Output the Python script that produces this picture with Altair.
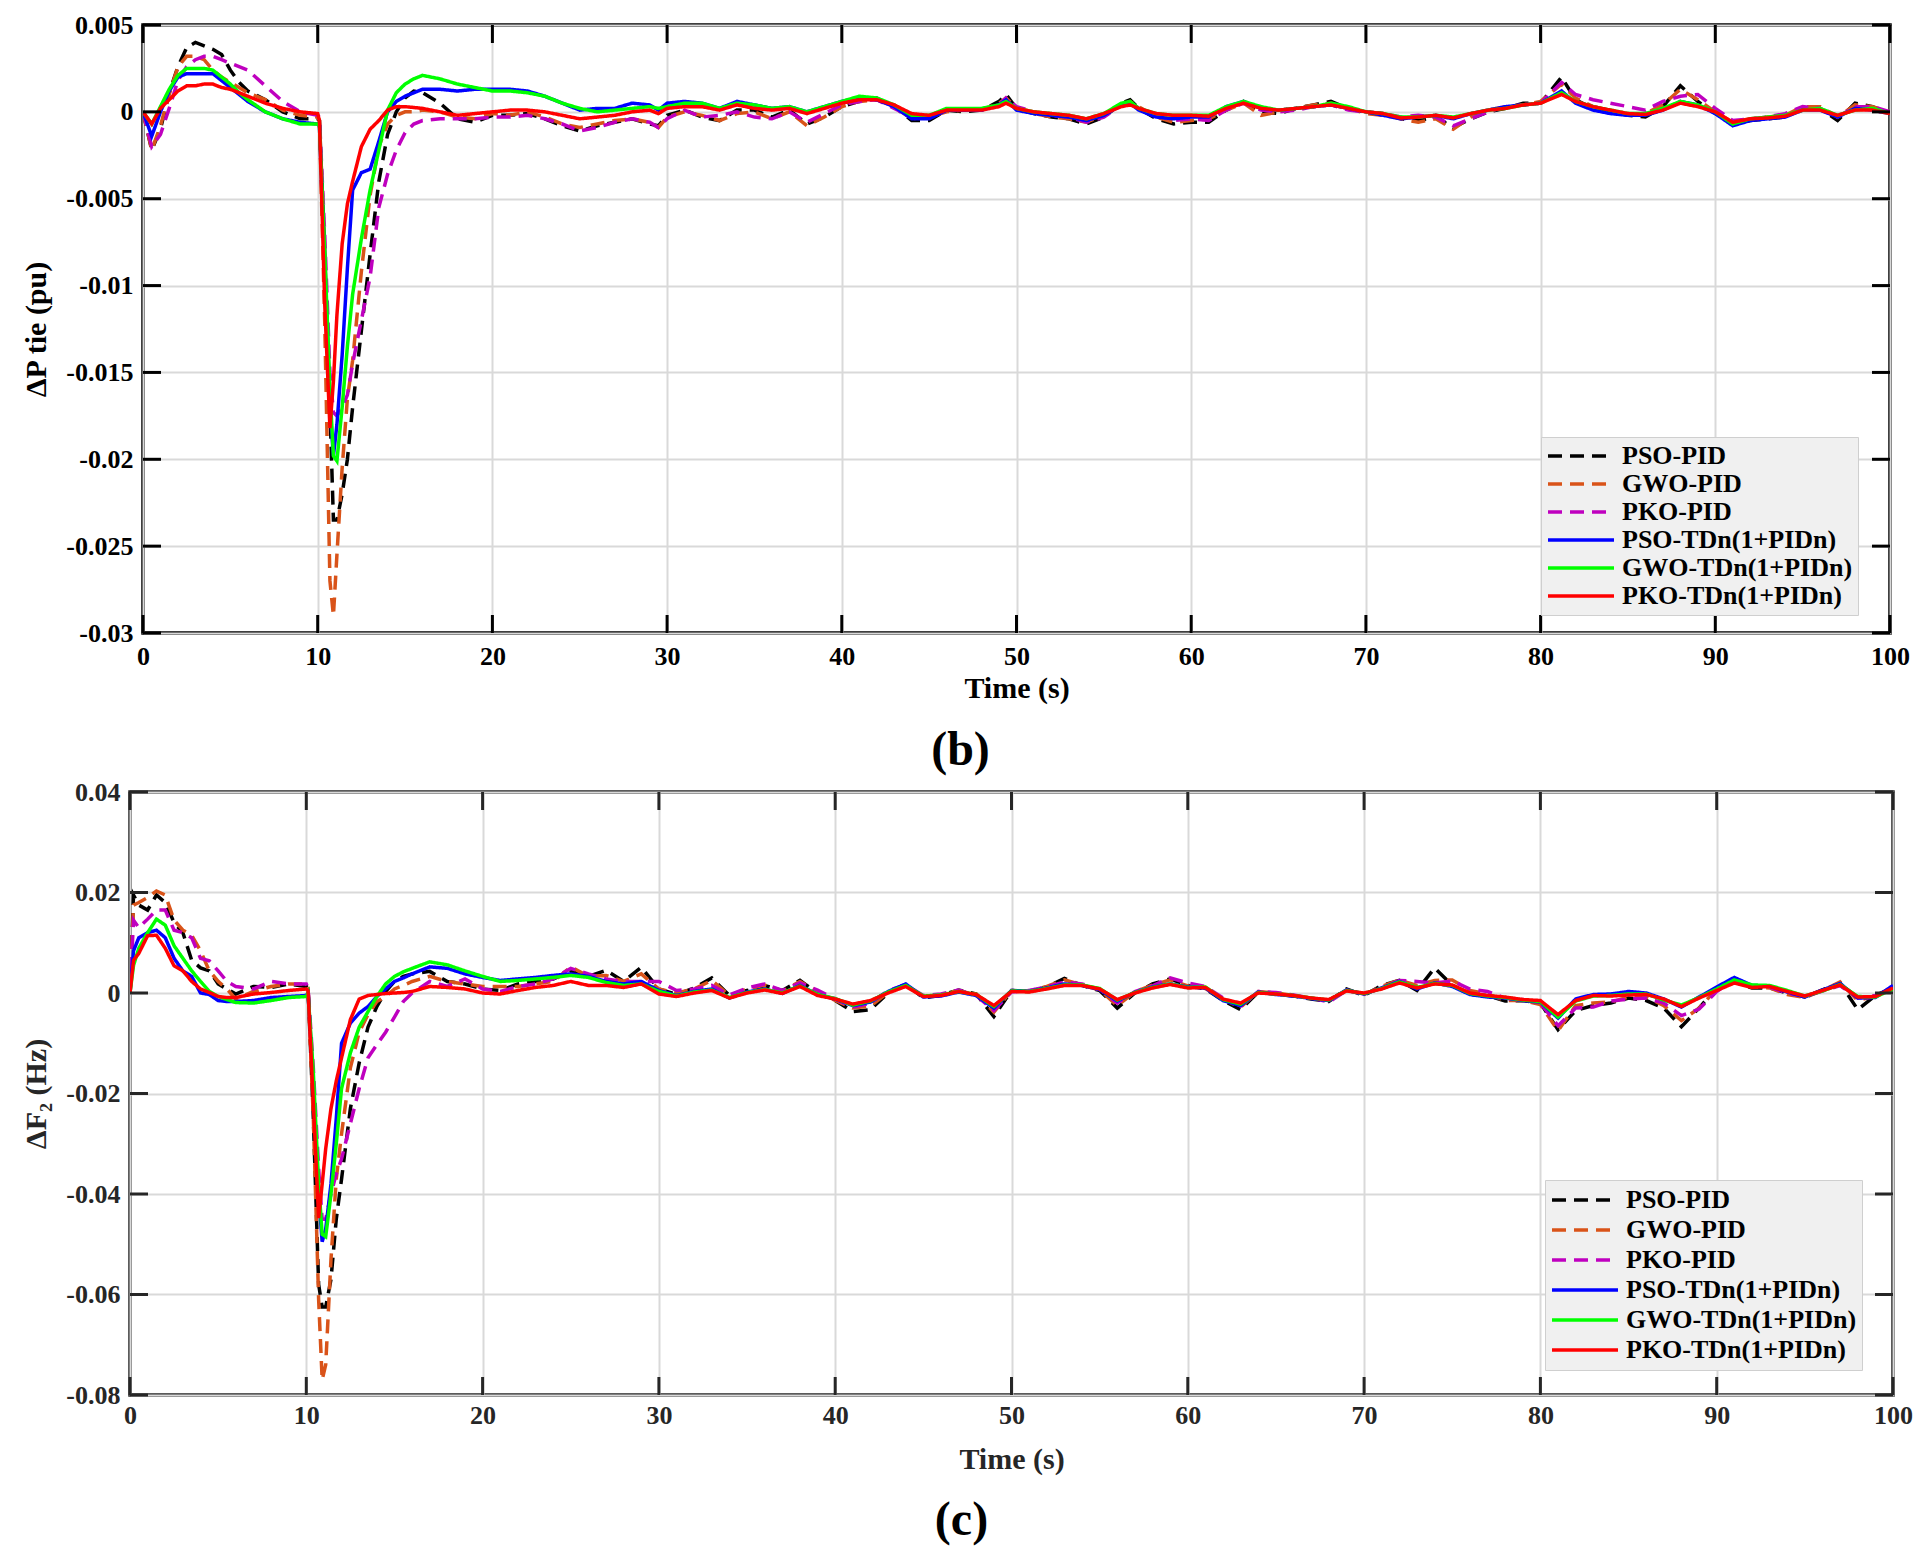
import altair as alt
import pandas as pd

FONT = "Liberation Serif"
SERIES = ["PSO-PID", "GWO-PID", "PKO-PID", "PSO-TDn(1+PIDn)", "GWO-TDn(1+PIDn)", "PKO-TDn(1+PIDn)"]
COLORS = ["#000000", "#D95319", "#BF00BF", "#0000FF", "#00FF00", "#FF0000"]
DASHES = [[14, 8], [14, 8], [14, 8], [1, 0], [1, 0], [1, 0]]
WIDTHS = [3.5, 3.5, 3.5, 3.5, 3.5, 4.5]

XTICKS = [0, 10, 20, 30, 40, 50, 60, 70, 80, 90, 100]
TOP_YTICKS = [0.005, 0, -0.005, -0.01, -0.015, -0.02, -0.025, -0.03]
BOT_YTICKS = [0.04, 0.02, 0, -0.02, -0.04, -0.06, -0.08]

# ---------------- panel (b): delta P tie, values in 1e-3 pu ----------------
TOP_T = [0, 0.5, 1, 1.5, 2, 2.5, 3, 3.5, 4, 4.5, 5, 5.5, 6, 7, 8, 9, 10,
         10.1, 10.4, 10.7, 10.9, 11.1, 11.4, 11.7, 12, 12.5, 13, 13.5, 14, 14.5, 15, 15.5, 16,
         17, 18, 19, 20, 21, 22, 23, 24, 25, 26, 27, 28, 29, 29.5, 30,
         31, 32, 33, 34, 35, 36, 37, 38, 39, 40, 41, 42, 43, 44, 45, 46, 47, 48, 49, 49.4,
         50, 51, 52, 53, 54, 55, 56, 56.5,
         57, 58, 59, 60, 61, 62, 63, 64, 65, 66, 67, 68, 69, 70, 71, 72, 73, 74, 75, 76, 77, 78, 79, 80,
         81.2, 82, 83, 84, 85, 86, 87, 88, 89, 90, 91, 92, 93, 94, 95, 96, 97, 98, 99, 100]

TOP_PSO_PID = [0, -2.2, -1.0, 1.1, 2.6, 3.7, 4.0, 3.8, 3.6, 3.3, 2.4, 1.7, 1.2, 0.7, 0.0, -0.4, -0.4,
               -0.5, -8, -17, -23.5, -23.5, -22, -20, -17, -12.6, -8.2, -4.0, -1.3, 0.0, 0.8, 1.2, 1.1,
               0.5, -0.4, -0.6, -0.2, -0.2, -0.1, -0.4, -0.8, -1.1, -0.8, -0.6, -0.4, -0.7, -0.8, -0.2,
               0.1, -0.3, -0.5, 0.1, 0.1, -0.3, 0.1, -0.7, -0.3, 0.3, 0.6, 0.8, 0.3, -0.5, -0.5, 0.1, 0.0, 0.1, 0.6, 1.0,
               0.2, -0.1, -0.3, -0.4, -0.7, -0.3, 0.5, 0.7,
               0.2, -0.4, -0.7, -0.6, -0.6, 0.1, 0.6, 0.0, -0.1, 0.2, 0.4, 0.6, 0.2, 0.0, -0.1, -0.4, -0.5, -0.3, -0.9, -0.4, 0.0, 0.2, 0.5, 0.5,
               2.0, 0.7, 0.2, 0.0, -0.2, -0.3, 0.3, 1.5, 0.6, -0.1, -0.7, -0.5, -0.4, -0.3, 0.2, 0.2, -0.5, 0.5, 0.3, -0.1]
TOP_GWO_PID = [0, -2.2, -0.8, 1.0, 2.6, 3.2, 3.2, 3.0, 2.4, 2.0, 1.7, 1.4, 1.1, 0.7, 0.1, -0.2, -0.3,
               -0.5, -12, -27, -29, -25.5, -20.5, -16.5, -14.3, -9.2, -4.8, -2.0, -0.7, -0.2, 0.0, 0.0, 0.1,
               0.0, -0.3, -0.4, -0.1, -0.2, 0.0, -0.3, -0.7, -0.9, -0.7, -0.5, -0.4, -0.6, -0.9, -0.3,
               0.0, -0.2, -0.5, -0.1, 0.0, -0.4, 0.0, -0.8, -0.3, 0.3, 0.6, 0.7, 0.3, -0.4, -0.3, 0.0, 0.1, 0.1, 0.5, 0.8,
               0.2, -0.1, -0.3, -0.4, -0.6, -0.2, 0.4, 0.6,
               0.3, -0.3, -0.6, -0.5, -0.4, 0.1, 0.5, -0.2, 0.0, 0.2, 0.4, 0.5, 0.2, -0.1, -0.2, -0.4, -0.6, -0.4, -1.0, -0.3, 0.1, 0.3, 0.4, 0.6,
               1.6, 0.8, 0.3, 0.1, -0.2, -0.1, 0.4, 1.3, 0.7, 0.0, -0.6, -0.4, -0.3, -0.2, 0.3, 0.3, -0.3, 0.4, 0.3, 0.0]
TOP_PKO_PID = [0, -2.0, -1.3, 0.2, 1.8, 2.6, 3.0, 3.2, 3.2, 3.0, 2.8, 2.6, 2.4, 1.5, 0.6, 0.0, -0.2,
               -0.3, -7, -15, -17.3, -17.5, -17, -16.3, -14.5, -12, -9.5, -5.5, -3.6, -2.2, -1.2, -0.7, -0.5,
               -0.4, -0.4, -0.4, -0.3, -0.3, -0.2, -0.4, -0.7, -1.1, -0.9, -0.6, -0.4, -0.6, -0.9, -0.4,
               0.1, -0.3, -0.2, 0.0, -0.3, -0.4, 0.0, -0.6, -0.1, 0.4, 0.6, 0.7, 0.2, -0.3, -0.3, 0.1, 0.1, 0.1, 0.4, 0.8,
               0.3, 0.0, -0.2, -0.3, -0.6, -0.3, 0.4, 0.6,
               0.2, -0.2, -0.5, -0.4, -0.5, 0.1, 0.5, 0.1, 0.0, 0.1, 0.3, 0.4, 0.1, 0.0, -0.1, -0.3, -0.2, -0.3, -0.8, -0.4, 0.0, 0.3, 0.4, 0.5,
               1.7, 1.0, 0.7, 0.5, 0.3, 0.1, 0.6, 0.9, 1.0, 0.2, -0.5, -0.4, -0.3, -0.1, 0.3, 0.2, -0.3, 0.3, 0.3, 0.0]
TOP_PSO_TDN = [0, -1.4, 0.0, 1.2, 2.0, 2.2, 2.2, 2.2, 2.2, 1.8, 1.4, 1.0, 0.6, 0.0, -0.4, -0.6, -0.7,
               -0.8, -9, -17, -19.8, -18, -14, -9, -4.5, -3.5, -3.3, -1.7, 0.0, 0.6, 0.9, 1.1, 1.3,
               1.3, 1.2, 1.3, 1.3, 1.3, 1.2, 0.9, 0.5, 0.1, 0.2, 0.2, 0.5, 0.4, 0.1, 0.5,
               0.6, 0.5, 0.2, 0.6, 0.4, 0.2, 0.3, 0.0, 0.3, 0.6, 0.8, 0.7, 0.3, -0.4, -0.4, 0.1, 0.1, 0.1, 0.4, 0.7,
               0.1, -0.1, -0.2, -0.3, -0.5, -0.2, 0.4, 0.5,
               0.1, -0.3, -0.4, -0.3, -0.3, 0.3, 0.6, 0.2, 0.1, 0.2, 0.3, 0.4, 0.2, 0.0, -0.2, -0.4, -0.3, -0.2, -0.4, -0.1, 0.1, 0.3, 0.4, 0.5,
               1.2, 0.5, 0.1, -0.1, -0.2, -0.2, 0.1, 0.6, 0.4, -0.1, -0.8, -0.5, -0.4, -0.3, 0.1, 0.1, -0.3, 0.2, 0.1, -0.1]
TOP_GWO_TDN = [0, -0.7, 0.3, 1.3, 2.1, 2.5, 2.5, 2.5, 2.4, 2.0, 1.6, 1.1, 0.7, 0.0, -0.4, -0.7, -0.7,
               -0.8, -8, -16, -19.8, -20.1, -17, -13.5, -10.5, -7.3, -4.5, -2.2, 0.1, 1.1, 1.6, 1.9, 2.1,
               1.9, 1.6, 1.4, 1.2, 1.2, 1.1, 0.9, 0.5, 0.2, 0.0, 0.1, 0.2, 0.3, 0.2, 0.3,
               0.5, 0.5, 0.2, 0.5, 0.4, 0.2, 0.3, 0.0, 0.3, 0.6, 0.9, 0.8, 0.4, -0.2, -0.2, 0.2, 0.2, 0.2, 0.4, 0.6,
               0.2, 0.0, -0.1, -0.2, -0.4, -0.1, 0.5, 0.6,
               0.2, -0.1, -0.2, -0.2, -0.2, 0.3, 0.6, 0.3, 0.1, 0.2, 0.3, 0.5, 0.3, 0.0, -0.1, -0.3, -0.3, -0.2, -0.3, -0.1, 0.1, 0.2, 0.4, 0.5,
               1.1, 0.6, 0.3, 0.1, -0.1, -0.1, 0.2, 0.6, 0.4, 0.0, -0.7, -0.4, -0.3, -0.2, 0.1, 0.2, -0.2, 0.1, 0.2, -0.1]
TOP_PKO_TDN = [0, -0.7, 0.2, 0.7, 1.2, 1.5, 1.5, 1.6, 1.6, 1.4, 1.3, 1.1, 0.9, 0.5, 0.2, 0.0, -0.1,
               -0.5, -11, -18.2, -15.5, -11.7, -7.6, -5.3, -4.0, -2.0, -1.0, -0.5, 0.1, 0.3, 0.3, 0.25, 0.2,
               0.0, -0.2, -0.1, 0.0, 0.1, 0.1, 0.0, -0.2, -0.4, -0.3, -0.2, 0.0, 0.1, -0.1, 0.2,
               0.3, 0.3, 0.1, 0.4, 0.2, 0.1, 0.2, -0.1, 0.2, 0.5, 0.7, 0.7, 0.4, -0.1, -0.2, 0.1, 0.1, 0.1, 0.3, 0.5,
               0.2, 0.0, -0.1, -0.2, -0.4, -0.1, 0.3, 0.4,
               0.2, -0.1, -0.2, -0.2, -0.25, 0.2, 0.5, 0.2, 0.1, 0.2, 0.3, 0.4, 0.2, 0.0, -0.1, -0.35, -0.3, -0.2, -0.35, -0.1, 0.1, 0.2, 0.4, 0.5,
               1.0, 0.6, 0.3, 0.1, -0.1, -0.15, 0.1, 0.5, 0.3, 0.0, -0.6, -0.4, -0.35, -0.25, 0.1, 0.1, -0.2, 0.1, 0.1, -0.1]

# ---------------- panel (c): delta F2, values in 1e-3 Hz ----------------
BOT_T = [0, 0.2, 0.5, 1, 1.5, 2, 2.5, 3, 3.5, 4, 4.5, 5, 5.5, 6, 7, 8, 9, 10,
         10.1, 10.4, 10.7, 10.9, 11.1, 11.4, 11.7, 12, 12.5, 13, 13.5, 14, 14.5, 15, 15.5, 16,
         17, 18, 19, 20, 21, 22, 23, 24, 25, 26, 27, 28, 29, 30,
         31, 32, 33, 34, 35, 36, 37, 38, 39, 40, 41, 42, 43, 44, 45, 46, 47, 48, 49, 50,
         51, 52, 53, 54, 55, 56, 57, 58, 59, 60, 61, 62, 63, 64, 65, 66, 67, 68, 69, 70,
         71, 72, 73, 74, 75, 76, 77, 78, 79, 80, 81, 82, 83, 84, 85, 86, 87, 88, 89, 90,
         91, 92, 93, 94, 95, 96, 97, 98, 99, 100]

BOT_PSO_PID = [0, 19.5, 17.5, 16.5, 19.5, 18, 14, 12, 6.5, 5, 4.4, 1.8, 0.8, -0.2, 1.3, 1.1, 1.8, 1.3,
               1, -25, -58, -62.5, -62.5, -57, -45, -37, -23, -13.9, -6.8, -2.7, 0.3, 2.3, 3.3, 3.8,
               4.3, 2.3, 1.8, 0.8, 0.5, 1.8, 2.3, 2.8, 4.3, 3.3, 4.5, 2.3, 5.1, 0.8,
               -0.3, 1.0, 3.0, -0.5, 0.5, 1.5, 0.5, 2.5, 0.0, -1.5,
               -3.7, -3.3, 0.0, 1.8, -1.0, -0.4, 0.6, -0.2, -4.7, 0.5,
               0.3, 1.2, 2.9, 1.5, 0.5, -3.0, 0.0, 1.8, 2.8, 1.5,
               0.8, -1.5, -3.3, 0.2, -0.2, -0.6, -1.2, -1.7, 0.8, -0.5,
               1.5, 2.5, 0.5, 5.0, 1.5, -0.3, -0.5, -1.6, -1.5, -2.0,
               -7.3, -3.5, -2.5, -2.0, -1.0, -1.5, -3.0, -6.7, -3.0, 1.0,
               2.2, 1.0, 1.0, 0.0, -0.8, 0.6, 2.0, -3.3, -0.5, 1.0]
BOT_GWO_PID = [0, 17.5, 18, 19, 20.3, 19.5, 14.5, 12.5, 11.5, 8.4, 4.4, 2.3, 0.8, -1.2, 0.3, 1.3, 1.8, 1.8,
               1, -25, -61, -77, -74, -53, -37, -28, -14.9, -7.8, -4.3, -1.7, -0.7, 0.8, 1.5, 2.3,
               3.3, 2.3, 1.8, 1.3, 1.3, 1.3, 1.8, 2.3, 5.2, 3.3, 3.5, 2.3, 3.8, 0.8,
               0.0, 0.8, 2.5, -0.5, 0.8, 1.6, 0.3, 2.3, 0.3, -1.5,
               -3.0, -2.6, 0.1, 1.6, -0.8, -0.3, 0.5, -0.2, -3.8, 0.5,
               0.4, 1.3, 2.6, 1.6, 0.6, -2.5, 0.2, 1.6, 2.6, 1.4,
               0.9, -1.3, -2.8, 0.3, 0.0, -0.5, -1.0, -1.5, 0.6, -0.3,
               1.3, 2.6, 1.5, 2.5, 2.6, 0.5, -0.2, -1.5, -1.5, -2.3,
               -7.5, -2.5, -2.0, -1.8, -0.8, -0.8, -2.5, -5.5, -3.0, 0.8,
               2.3, 1.2, 1.0, -0.3, -0.9, 0.5, 2.2, -1.5, -0.6, 1.2]
BOT_PKO_PID = [0, 14.5, 13, 14.7, 16.5, 16.5, 12.5, 12, 11, 6.9, 6.4, 4.4, 2.3, 1.3, 0.8, 2.3, 1.8, 1.8,
               1, -15, -35, -45, -45, -40, -36, -33, -26, -19, -12.9, -10.3, -7.8, -4.8, -1.7, 0.0,
               2.3, 1.3, 2.8, 0.8, 0.3, 1.3, 1.8, 2.8, 4.9, 3.8, 2.8, 2.3, 2.3, 2.3,
               0.5, 0.8, 1.5, -0.4, 1.0, 1.8, 0.5, 2.0, 0.6, -1.2,
               -2.8, -2.0, 0.5, 1.6, -0.5, -0.2, 0.6, -0.5, -3.5, 0.2,
               0.5, 1.2, 2.2, 1.8, 0.7, -2.0, 0.3, 1.4, 3.0, 2.0,
               1.3, -1.0, -2.6, 0.3, 0.1, -0.4, -1.0, -1.8, 0.5, -0.2,
               1.0, 2.5, 2.3, 2.0, 2.4, 0.8, 0.3, -1.0, -1.3, -2.0,
               -6.5, -3.0, -2.8, -1.6, -1.2, -1.0, -2.0, -4.5, -3.2, 0.3,
               2.6, 1.5, 1.2, 0.0, -0.7, 0.4, 1.5, -1.0, -0.5, 0.8]
BOT_PSO_TDN = [0, 8.4, 11, 12, 12.5, 11, 6.9, 4.4, 3.3, 0.0, -0.3, -1.5, -1.7, -1.7, -1.5, -0.9, -0.7, -0.5,
               0, -18, -40, -49.5, -47, -38, -25, -10, -6.0, -4.0, -2.7, -0.7, 0.8, 2.3, 3.0, 3.8,
               5.2, 4.9, 3.8, 3.1, 2.5, 2.8, 3.1, 3.5, 3.8, 3.3, 2.3, 1.8, 2.3, 0.5,
               -0.5, 0.3, 0.8, -1.0, 0.2, 0.8, -0.1, 1.5, -0.3, -1.2,
               -2.5, -1.8, 0.3, 1.8, -0.8, -0.6, 0.2, -0.5, -3.0, 0.5,
               0.3, 1.0, 1.8, 1.5, 0.7, -1.6, 0.1, 1.2, 1.8, 1.2,
               1.0, -1.5, -2.5, 0.2, -0.3, -0.6, -1.1, -1.5, 0.6, -0.2,
               1.0, 2.3, 0.8, 2.0, 1.3, -0.3, -0.8, -1.0, -1.5, -1.8,
               -5.0, -1.2, -0.3, -0.2, 0.3, 0.0, -1.2, -2.8, -0.8, 1.2,
               3.1, 1.5, 1.4, 0.2, -0.8, 0.6, 1.9, -1.0, -0.9, 1.5]
BOT_GWO_TDN = [0, 5.5, 8.9, 12, 14.7, 13.5, 9.4, 6.9, 4.4, 2.3, 0.3, -0.7, -1.3, -1.9, -2.0, -1.5, -0.9, -0.7,
               0, -16, -38, -48, -48.5, -40, -30, -19, -11.9, -6.8, -3.7, -0.7, 1.8, 3.3, 4.2, 4.9,
               6.2, 5.6, 4.4, 3.3, 2.3, 2.5, 2.8, 3.1, 3.5, 3.1, 2.1, 1.5, 1.8, 0.3,
               -0.6, 0.2, 0.6, -0.9, 0.1, 0.7, 0.0, 1.4, -0.3, -1.1,
               -2.4, -1.6, 0.2, 1.5, -0.6, -0.4, 0.3, -0.3, -2.7, 0.4,
               0.3, 0.9, 1.6, 1.6, 0.9, -1.4, 0.1, 1.1, 1.8, 1.1,
               1.2, -1.3, -2.2, 0.1, -0.2, -0.5, -1.0, -1.4, 0.5, -0.1,
               0.9, 2.2, 1.1, 1.9, 1.5, -0.1, -0.6, -0.9, -1.4, -1.7,
               -4.8, -1.6, -0.6, -0.5, -0.2, -0.2, -1.4, -2.4, -0.9, 0.8,
               2.6, 1.6, 1.5, 0.5, -0.6, 0.4, 1.7, -0.7, -0.8, 0.8]
BOT_PKO_TDN = [0, 6.5, 7.9, 11.4, 11.5, 8.9, 5.4, 4.4, 2.3, 0.8, 0.1, -0.7, -0.9, -0.9, -0.2, 0.1, 0.5, 0.8,
               0.5, -22, -44.8, -38, -31, -23, -17.5, -12.9, -5.3, -1.2, -0.5, -0.3, -0.1, 0.0, 0.1, 0.3,
               1.3, 1.1, 0.8, 0.0, -0.2, 0.5, 1.1, 1.5, 2.3, 1.5, 1.5, 1.1, 1.8, -0.2,
               -0.7, 0.0, 0.5, -1.0, 0.0, 0.6, -0.1, 1.3, -0.5, -1.2,
               -2.2, -1.5, 0.0, 1.3, -0.7, -0.5, 0.3, -0.3, -2.5, 0.3,
               0.2, 0.8, 1.5, 1.5, 0.8, -1.3, 0.0, 1.0, 1.7, 1.0,
               1.1, -1.2, -2.0, 0.0, -0.2, -0.5, -1.0, -1.3, 0.4, 0.0,
               0.8, 2.0, 1.0, 1.8, 1.6, 0.0, -0.5, -0.8, -1.3, -1.5,
               -4.3, -1.5, -0.5, -0.6, -0.4, -0.3, -1.2, -2.7, -1.0, 0.5,
               2.0, 1.1, 1.3, 0.3, -0.6, 0.5, 1.6, -0.8, -0.7, 1.0]


def long_table(times, columns):
    rows = []
    for name, vals in zip(SERIES, columns):
        for t, v in zip(times, vals):
            rows.append({"t": t, "v": v / 1000.0, "series": name})
    return pd.DataFrame(rows)


LABEL_EXPR = "datum.value == 0 ? '0' : (datum.value < 0 ? '-' : '') + format(abs(datum.value), '.3~f')"


def panel(df, ydom, yticks, w, h, ytitle, caption, cap_dx, col, lx, ly, row_h,
          xlab_pad, xtitle_pad, cap_off):
    xs = alt.Scale(domain=[0, 100], nice=False, zero=False)
    ys = alt.Scale(domain=ydom, nice=False, zero=False)
    leg = alt.Legend(orient="none", legendX=lx, legendY=ly, title=None,
                     symbolType="stroke", symbolSize=4356, symbolStrokeWidth=3.5,
                     clipHeight=row_h, labelFont=FONT, labelFontSize=26, labelFontWeight="bold",
                     labelColor="black", fillColor="#f0f0f0", strokeColor="#cfcfcf",
                     padding=5, labelOffset=6, rowPadding=0, labelLimit=500)
    xaxis = alt.Axis(values=XTICKS, format="d", title="Time (s)", grid=True, gridColor="#d9d9d9",
                     gridWidth=2, domain=False, ticks=False, labelFont=FONT, labelFontSize=26,
                     labelFontWeight="bold", labelColor=col, labelPadding=xlab_pad, labelFlush=False,
                     titleFont=FONT, titleFontSize=30, titleFontWeight="bold", titleColor=col,
                     titlePadding=xtitle_pad)
    yaxis = alt.Axis(values=yticks, labelExpr=LABEL_EXPR, title=ytitle, grid=True,
                     gridColor="#d9d9d9", gridWidth=2, domain=False, ticks=False,
                     labelFont=FONT, labelFontSize=26, labelFontWeight="bold", labelColor=col,
                     labelPadding=10, labelFlush=False, titleFont=FONT, titleFontSize=30,
                     titleFontWeight="bold", titleColor=col, titlePadding=14)
    X = alt.X("t:Q", scale=xs, axis=xaxis)
    Y = alt.Y("v:Q", scale=ys, axis=yaxis)
    lines = alt.Chart(df).mark_line(clip=True, strokeCap="butt").encode(
        x=X, y=Y,
        color=alt.Color("series:N", scale=alt.Scale(domain=SERIES, range=COLORS), legend=leg),
        strokeDash=alt.StrokeDash("series:N", scale=alt.Scale(domain=SERIES, range=DASHES), legend=leg),
        strokeWidth=alt.StrokeWidth("series:N", scale=alt.Scale(domain=SERIES, range=WIDTHS), legend=None),
    )
    xt = alt.Chart(pd.DataFrame({"t": XTICKS}))
    yt = alt.Chart(pd.DataFrame({"v": yticks}))
    tb = xt.mark_rule(color=col, strokeWidth=3).encode(x=X, y=alt.value(h), y2=alt.value(h - 18))
    tt = xt.mark_rule(color=col, strokeWidth=3).encode(x=X, y=alt.value(0), y2=alt.value(18))
    tl = yt.mark_rule(color=col, strokeWidth=3).encode(y=Y, x=alt.value(0), x2=alt.value(18))
    tr = yt.mark_rule(color=col, strokeWidth=3).encode(y=Y, x=alt.value(w), x2=alt.value(w - 18))
    return alt.layer(lines, tb, tt, tl, tr).properties(
        width=w, height=h,
        title=alt.TitleParams(caption, orient="bottom", font=FONT, fontSize=48, fontWeight="bold",
                              color="black", offset=cap_off, dx=cap_dx),
        view=alt.ViewBackground(stroke=col, strokeWidth=3.5),
    )


top_df = long_table(TOP_T, [TOP_PSO_PID, TOP_GWO_PID, TOP_PKO_PID, TOP_PSO_TDN, TOP_GWO_TDN, TOP_PKO_TDN])
bot_df = long_table(BOT_T, [BOT_PSO_PID, BOT_GWO_PID, BOT_PKO_PID, BOT_PSO_TDN, BOT_GWO_TDN, BOT_PKO_TDN])

top = panel(top_df, [-0.03, 0.005], TOP_YTICKS, 1747, 608, "ΔP tie (pu)", "(b)", -56,
            "#000000", 1398, 412, 28, 10, 4, 24)
bot = panel(bot_df, [-0.08, 0.04], BOT_YTICKS, 1763, 603, "ΔF₂ (Hz)", "(c)", -50,
            "#262626", 1415, 388, 30, 7, 16, 23)

spacer = alt.Chart(pd.DataFrame({"s": [0]})).mark_point(opacity=0).properties(width=13, height=608)

top_row = alt.hconcat(spacer, top, spacing=0, bounds="flush").resolve_scale(
    color="independent", strokeDash="independent", strokeWidth="independent").resolve_legend(
    color="independent", strokeDash="independent", strokeWidth="independent")

chart = alt.vconcat(top_row, bot, spacing=0).resolve_scale(
    x="independent", y="independent", color="independent", strokeDash="independent",
    strokeWidth="independent").resolve_legend(
    color="independent", strokeDash="independent", strokeWidth="independent").properties(
    padding={"left": 12, "top": 2, "right": 0, "bottom": 2}).configure_view(stroke=None)

chart.save("out.html", embed_options={"renderer": "svg", "actions": False})
